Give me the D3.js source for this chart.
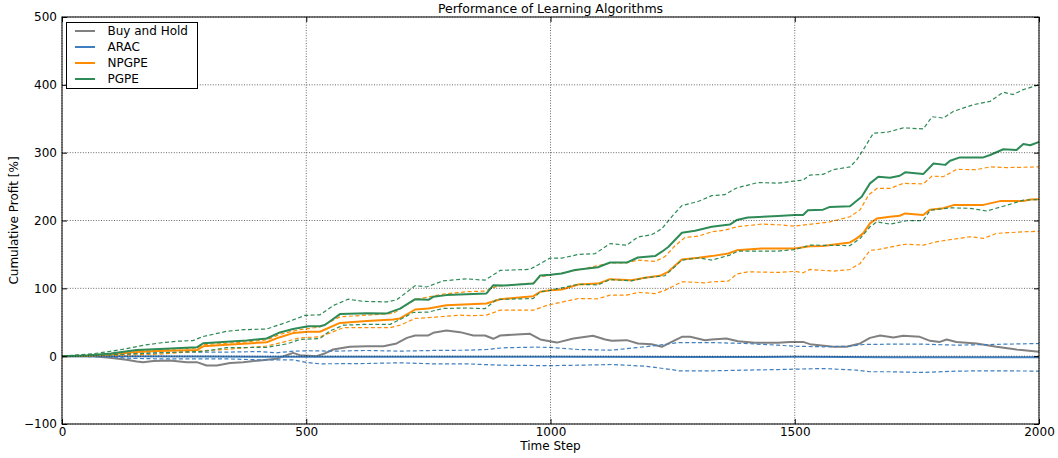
<!DOCTYPE html>
<html>
<head>
<meta charset="utf-8">
<script src="https://cdn.jsdelivr.net/npm/d3@7"></script>
<style>
  body { margin: 0; background: #fff; }
  text { font-family: "DejaVu Sans", sans-serif; fill: #000; }
</style>
</head>
<body>
<div class="chart"></div>
<script>

// series: [time step, cumulative profit %]
var buyAndHold = [[0,0],[64,0],[98,-2.4],[132,-5.4],[153,-7.8],[166,-8.8],[187,-7.3],[221,-6.3],[255,-8.8],[276,-8.8],[296,-13.7],[317,-13.7],[344,-10.2],[371,-8.8],[405,-6.3],[439,-3.9],[473,4.9],[487,1.5],[521,0],[538,4],[555,9.8],[589,13.8],[624,14.7],[658,14.7],[685,18.7],[706,27],[723,30.5],[750,30.5],[760,34.4],[787,37.9],[815,35.4],[842,30.5],[866,30.5],[883,25.6],[897,30.5],[931,32],[958,33],[979,24.6],[993,22.6],[1013,20],[1047,26],[1087,30],[1112,24.6],[1125,22.6],[1156,23.6],[1179,18.7],[1207,17.7],[1228,13.8],[1248,21],[1269,28.5],[1286,28.5],[1316,23.6],[1330,24.6],[1360,26],[1384,22],[1418,19.7],[1466,19.7],[1490,21],[1517,21],[1531,17.7],[1579,13.8],[1606,13.8],[1634,18.7],[1654,27],[1675,30.5],[1702,27.5],[1722,30],[1756,28.5],[1777,22.6],[1797,21],[1811,24.6],[1831,21],[1872,18.7],[1913,13.8],[1954,9.8],[2000,6.4]];

var aracMean = [[0,0],[100,0],[300,-0.5],[500,-1],[800,-0.8],[1000,-1],[1300,-1.2],[1500,-1],[1700,-1.5],[2000,-1.5]];
var aracUpper = [[0,0],[64,1],[132,3.4],[200,5],[268,6],[337,6],[405,6.8],[439,5],[473,7.3],[503,8],[555,7.4],[624,8.4],[692,7.4],[760,8.4],[828,8.8],[869,9.8],[903,12.3],[965,13.3],[999,13],[1057,9.8],[1125,8.8],[1179,12.8],[1221,16.2],[1262,20],[1330,20],[1398,18.7],[1466,16.2],[1497,14.7],[1558,13.8],[1613,14.7],[1640,17.2],[1695,17.7],[1763,17.7],[1831,16.2],[1900,17.2],[2000,18.7]];
var aracLower = [[0,0],[98,-1],[132,-3],[200,-4],[268,-4],[337,-4],[405,-5.4],[473,-5.4],[503,-9.5],[528,-11.3],[624,-10.8],[692,-9.8],[760,-11.3],[828,-11.3],[897,-13.3],[999,-14],[1057,-13.3],[1125,-12.3],[1193,-14.7],[1248,-19.7],[1262,-21.6],[1330,-21.6],[1398,-20.6],[1466,-19.7],[1500,-19.2],[1558,-18.2],[1627,-20.6],[1654,-23],[1695,-23],[1763,-24],[1831,-22],[1900,-21.6],[2000,-22]];

var npgpeMean = [[0,0],[50,0.5],[100,3],[153,6],[200,7.5],[276,9],[289,14.5],[337,17],[419,20.5],[446,28],[473,34],[503,36],[528,36],[569,49],[624,52],[678,54],[692,55.6],[723,68.8],[750,70.4],[787,75],[869,77.7],[897,84],[965,88.5],[979,95],[1000,97.3],[1023,98.3],[1057,105.7],[1097,107],[1122,113.5],[1166,112],[1193,115.5],[1224,118.5],[1241,124.4],[1269,142.6],[1303,145],[1330,147.5],[1364,151.4],[1381,156],[1432,158.8],[1500,158.8],[1531,162],[1558,162.5],[1613,167.7],[1627,173.6],[1640,181],[1654,195.7],[1668,203],[1695,205.5],[1715,207],[1726,210.4],[1763,208],[1777,216],[1804,218],[1825,222.7],[1886,223],[1920,228.6],[1968,228.6],[1982,231],[2000,231.5]];
var npgpeUpper = [[0,0],[100,3.5],[153,8],[200,9.5],[276,12],[289,17],[378,21],[419,24],[446,32],[473,37],[487,39],[528,43],[569,58],[624,60.5],[678,63],[723,83.6],[780,91.4],[828,95],[866,96],[890,103],[965,108],[979,117],[999,119.5],[1057,127],[1122,137.6],[1156,137.6],[1179,141.6],[1214,139.7],[1234,146.5],[1254,162],[1275,175],[1303,177],[1330,183.4],[1357,185.8],[1381,190.7],[1432,194.7],[1466,193.7],[1500,191.7],[1572,198],[1613,205.5],[1634,216],[1651,237.5],[1668,247.3],[1695,247.3],[1722,254.7],[1763,254],[1781,265.5],[1804,264.5],[1831,275.3],[1872,275],[1900,279],[1934,278],[2000,279]];
var npgpeLower = [[0,0],[100,1],[200,3],[289,8],[337,10],[419,15],[460,22],[487,27],[528,28.5],[548,34],[576,42],[672,42],[692,45.7],[723,55.6],[760,57.2],[815,60.5],[842,59.7],[869,60.5],[897,67.8],[965,67.8],[993,75],[1057,85],[1097,84.6],[1122,90],[1156,90],[1179,94],[1214,92.3],[1234,97],[1269,109.6],[1296,109],[1316,108],[1330,109.6],[1364,110.6],[1381,121],[1404,124.4],[1466,123.4],[1500,125],[1517,123],[1531,127.8],[1579,125.4],[1613,127.8],[1634,136.7],[1654,156],[1675,157.7],[1715,163.7],[1729,165],[1763,163.7],[1790,168.6],[1811,171],[1859,176],[1886,173.6],[1913,181],[1968,183.4],[2000,184]];

var pgpeMean = [[0,0],[50,1],[100,4],[153,9],[200,10.5],[276,13],[289,19],[378,23],[419,26],[446,35],[473,40],[504,44],[528,44],[538,46],[569,62],[624,63.3],[665,63],[692,70],[723,84],[750,83],[760,87.5],[787,90],[869,92.5],[883,104.7],[903,104],[965,107],[979,119],[1000,120],[1023,122],[1050,127],[1097,131],[1122,138],[1156,138],[1179,145.5],[1214,147.5],[1228,154],[1241,161],[1269,182],[1296,185],[1330,190.7],[1367,194],[1381,200.6],[1404,204.5],[1466,206.5],[1500,208],[1517,208],[1527,215],[1558,216],[1572,220],[1613,221],[1637,235],[1654,254.7],[1671,264.5],[1695,263],[1715,266],[1726,271],[1763,268.4],[1784,284],[1808,282],[1818,288],[1838,293],[1886,293],[1900,296.5],[1927,305],[1954,304],[1968,312.7],[1982,311],[2000,316]];
var pgpeUpper = [[0,0],[64,3.7],[98,7],[132,11],[166,16],[200,19.4],[235,22],[268,23],[289,29],[337,36.6],[371,39],[419,40],[460,50],[497,60],[528,61],[555,74.5],[586,84],[616,80.8],[665,80],[685,83],[723,104],[746,102],[780,111],[828,114],[866,112],[897,126.4],[958,128],[999,144.5],[1023,144.5],[1057,150],[1091,151],[1122,166],[1156,163.5],[1179,175.7],[1207,179],[1228,188],[1251,208],[1269,222],[1303,228.3],[1330,236.7],[1357,238],[1381,248],[1425,256],[1466,255],[1497,258],[1517,259.5],[1531,267],[1558,268],[1579,275],[1613,279],[1627,289.5],[1640,304],[1661,328.7],[1689,330],[1722,336.6],[1763,335],[1781,353],[1804,351],[1825,361],[1866,370.7],[1900,375.7],[1927,389],[1947,385.7],[1968,393],[2000,400]];
var pgpeLower = [[0,0],[100,2],[200,5],[289,7],[337,12.5],[419,13],[460,18],[487,24.6],[528,26],[548,37],[576,45.7],[624,47],[672,47],[692,54],[719,64.4],[750,65],[780,70.3],[828,71],[866,70],[890,83.6],[965,85],[979,95],[999,97],[1057,106],[1097,105],[1122,113],[1166,111],[1193,115.5],[1234,118.5],[1269,141.6],[1303,145],[1330,141.6],[1367,149],[1384,155],[1466,155],[1500,157],[1531,163.7],[1613,163],[1634,173.6],[1654,190.7],[1668,198],[1695,194.7],[1729,199.6],[1763,200],[1777,215],[1818,218.7],[1859,218],[1893,214],[1927,221],[1968,230],[2000,231]];

var legendLabels = ["Buy and Hold", "ARAC", "NPGPE", "PGPE"];
var xTicks = [0, 500, 1000, 1500, 2000];
var yTicks = [-100, 0, 100, 200, 300, 400, 500];

var svgWidth = 1058;
var svgHeight = 458;
var margin = { top: 17, right: 19, bottom: 34, left: 62 };
var width = svgWidth - margin.left - margin.right;
var height = svgHeight - margin.top - margin.bottom;

var colors = {
  "Buy and Hold": "#808080",
  "ARAC": "#3f7fbf",
  "NPGPE": "#ff8c00",
  "PGPE": "#2e8b57"
};

var series = [
  { name: "Buy and Hold", mean: buyAndHold },
  { name: "ARAC", mean: aracMean, upper: aracUpper, lower: aracLower },
  { name: "NPGPE", mean: npgpeMean, upper: npgpeUpper, lower: npgpeLower },
  { name: "PGPE", mean: pgpeMean, upper: pgpeUpper, lower: pgpeLower }
];

var svg = d3
  .select(".chart")
  .append("svg")
  .attr("width", svgWidth)
  .attr("height", svgHeight);

var chart = svg.append("g")
  .attr("transform", "translate(" + margin.left + "," + margin.top + ")");

var xScale = d3.scaleLinear().domain([0, 2000]).range([0, width]);
var yScale = d3.scaleLinear().domain([-100, 500]).range([height, 0]);

var line = d3.line()
  .x(function(d) { return xScale(d[0]); })
  .y(function(d) { return yScale(d[1]); });

chart.append("defs").append("clipPath").attr("id", "plot-clip")
  .append("rect").attr("width", width).attr("height", height);

var lines = chart.append("g").attr("clip-path", "url(#plot-clip)");

series.forEach(function(s) {
  [s.upper, s.lower].forEach(function(band) {
    if (!band) return;
    lines.append("path")
      .datum(band)
      .attr("d", line)
      .attr("fill", "none")
      .attr("stroke", colors[s.name])
      .attr("stroke-width", 1.2)
      .attr("stroke-dasharray", "4,2.5");
  });
  lines.append("path")
    .datum(s.mean)
    .attr("d", line)
    .attr("fill", "none")
    .attr("stroke", colors[s.name])
    .attr("stroke-width", 2)
    .attr("stroke-linejoin", "round");
});

// dotted grid, drawn over the lines like matplotlib classic
var grid = chart.append("g");
grid.selectAll(".gx").data(xTicks).enter().append("line")
  .attr("x1", function(d) { return xScale(d); })
  .attr("x2", function(d) { return xScale(d); })
  .attr("y1", 0).attr("y2", height);
grid.selectAll(".gy").data(yTicks).enter().append("line")
  .attr("y1", function(d) { return yScale(d); })
  .attr("y2", function(d) { return yScale(d); })
  .attr("x1", 0).attr("x2", width);
grid.selectAll("line")
  .attr("stroke", "#000")
  .attr("stroke-width", 0.6)
  .attr("stroke-dasharray", "1,1.6");

// axes with inward ticks on all four sides
var bottomAxis = d3.axisBottom(xScale).tickValues(xTicks).tickFormat(d3.format("d"))
  .tickSize(-5).tickSizeOuter(0).tickPadding(3);
var leftAxis = d3.axisLeft(yScale).tickValues(yTicks).tickFormat(d3.format("d"))
  .tickSize(-5).tickSizeOuter(0).tickPadding(5);
var topAxis = d3.axisTop(xScale).tickValues(xTicks).tickSize(-5).tickSizeOuter(0).tickFormat("");
var rightAxis = d3.axisRight(yScale).tickValues(yTicks).tickSize(-5).tickSizeOuter(0).tickFormat("");

chart.append("g").attr("transform", "translate(0," + height + ")").call(bottomAxis);
chart.append("g").call(leftAxis);
chart.append("g").call(topAxis);
chart.append("g").attr("transform", "translate(" + width + ",0)").call(rightAxis);

chart.selectAll(".domain").remove();
chart.selectAll(".tick line").attr("stroke", "#000").attr("stroke-width", 1);
chart.selectAll(".tick text")
  .style("font-family", "DejaVu Sans")
  .style("font-size", "12px")
  .attr("fill", "#000");

chart.append("rect")
  .attr("width", width)
  .attr("height", height)
  .attr("fill", "none")
  .attr("stroke", "#000")
  .attr("stroke-width", 1);

// title and axis labels
chart.append("text")
  .attr("x", width / 2)
  .attr("y", -4)
  .attr("text-anchor", "middle")
  .style("font-size", "12.5px")
  .text("Performance of Learning Algorithms");

chart.append("text")
  .attr("x", width / 2)
  .attr("y", height + 26)
  .attr("text-anchor", "middle")
  .style("font-size", "12px")
  .text("Time Step");

chart.append("text")
  .attr("transform", "rotate(-90)")
  .attr("x", -height / 2)
  .attr("y", -44)
  .attr("text-anchor", "middle")
  .style("font-size", "12px")
  .text("Cumulative Profit [%]");

// legend
var legend = chart.append("g").attr("transform", "translate(4.5,5.5)");
legend.append("rect")
  .attr("width", 131)
  .attr("height", 66)
  .attr("fill", "#fff")
  .attr("stroke", "#000")
  .attr("stroke-width", 1);

var entries = legend.selectAll(".entry")
  .data(legendLabels)
  .enter()
  .append("g")
  .attr("transform", function(d, i) { return "translate(0," + (8.5 + i * 16) + ")"; });

entries.append("line")
  .attr("x1", 8.5).attr("x2", 28.5)
  .attr("stroke", function(d) { return colors[d]; })
  .attr("stroke-width", 2);

entries.append("text")
  .attr("x", 41)
  .attr("dy", "0.36em")
  .style("font-size", "12px")
  .text(function(d) { return d; });

</script>
</body>
</html>
